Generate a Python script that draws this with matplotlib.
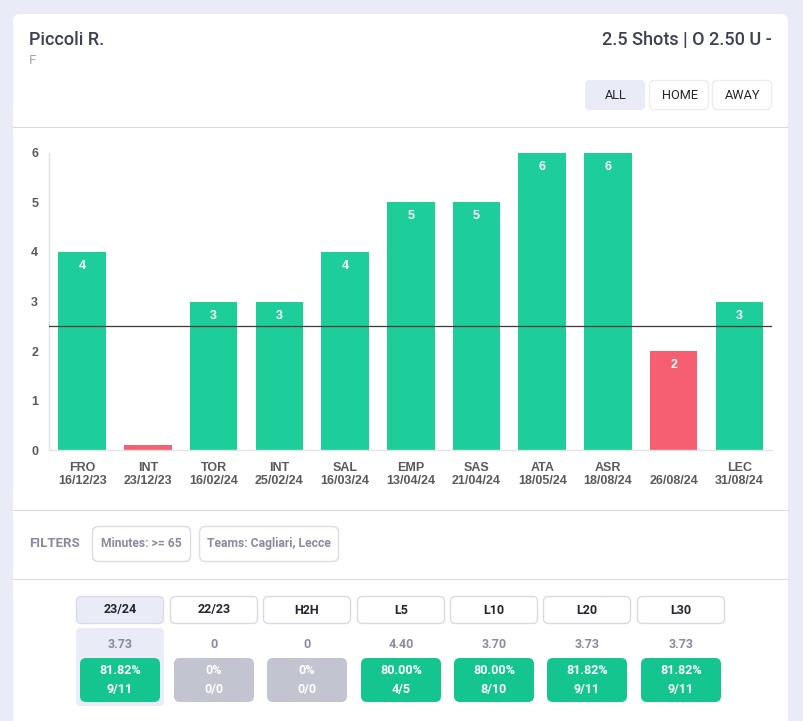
import matplotlib
matplotlib.use("Agg")
import matplotlib.pyplot as plt
from matplotlib.patches import FancyBboxPatch
from matplotlib.ticker import FixedLocator

teams = ["FRO", "INT", "TOR", "INT", "SAL", "EMP", "SAS", "ATA", "ASR", "", "LEC"]
dates = ["16/12/23", "23/12/23", "16/02/24", "25/02/24", "16/03/24", "13/04/24",
         "21/04/24", "18/05/24", "18/08/24", "26/08/24", "31/08/24"]
shots = [4, 0.1, 3, 3, 4, 5, 5, 6, 6, 2, 3]
bar_labels = ["4", "", "3", "3", "4", "5", "5", "6", "6", "2", "3"]
line_value = 2.5

tabs = ["23/24", "22/23", "H2H", "L5", "L10", "L20", "L30"]
averages = ["3.73", "0", "0", "4.40", "3.70", "3.73", "3.73"]
percents = ["81.82%", "0%", "0%", "80.00%", "80.00%", "81.82%", "81.82%"]
fractions = ["9/11", "0/0", "0/0", "4/5", "8/10", "9/11", "9/11"]
venue_buttons = ["ALL", "HOME", "AWAY"]
filters = ["Minutes: >= 65", "Teams: Cagliari, Lecce"]

W, H = 804, 721
BG = "#E9ECF6"
GREEN = "#1DCD9A"
RED = "#F65F72"
CELL = "#14C58F"
GREY = "#C2C4CF"
DARK = "#3E4152"
MUTED = "#8B8A9E"
LINE = "#DADBE0"
AXC = "#5A5A5A"

fig = plt.figure(figsize=(W / 100, H / 100), dpi=100, facecolor=BG)
ui = fig.add_axes([0, 0, 1, 1], zorder=0)
ui.set_xlim(0, W)
ui.set_ylim(H, 0)
ui.axis("off")


def box(x0, y0, x1, y1, fc, ec="none", r=5, lw=1.0, z=1):
    ui.add_patch(FancyBboxPatch((x0 + r, y0 + r), x1 - x0 - 2 * r, y1 - y0 - 2 * r,
                                boxstyle=f"round,pad={r},rounding_size={r}",
                                fc=fc, ec=ec, lw=lw, zorder=z))


def txt(x, y, s, size, color, weight="normal", ha="center", fam="Roboto"):
    ui.text(x, y, s, fontsize=size, color=color, fontweight=weight, ha=ha,
            va="center", family=fam, zorder=5)


# Card
box(13, 14, 788, 740, "white", r=7)
for y in (126.5, 509.5, 578.5):
    ui.plot([13, 788], [y, y], color=LINE, lw=0.8, zorder=2)

# Header
txt(29, 40, "Piccoli R.", 13, DARK, "medium", "left")
txt(29, 61, "F", 9.5, "#A5A5B2", "normal", "left")
txt(772, 40, "2.5 Shots | O 2.50 U -", 13, DARK, "medium", "right")

venue_x = [(585, 645), (649, 709), (712, 772)]
for i, (name, (a, b)) in enumerate(zip(venue_buttons, venue_x)):
    if i == 0:
        box(a, 80, b, 110, BG, r=5)
    else:
        box(a + .5, 80.5, b - .5, 109.5, "white", "#ECECF1", r=5)
    txt((a + b) / 2 + 1, 95.7, name, 9.2, "#25262E")

# Chart
ax = fig.add_axes([49.3 / W, 1 - 450.3 / H, 723 / W, 297.5 / H], zorder=3)
ax.patch.set_alpha(0)
xs = list(range(len(shots)))
colors = [GREEN if v > line_value else RED for v in shots]
bars = ax.bar(xs, shots, width=0.723, color=colors, zorder=2)
ax.set_xlim(-0.5, len(shots) - 0.5)
ax.set_ylim(0, 6)
ax.axhline(line_value, color="#3A3A3A", lw=0.9, zorder=3)
for x, v, lab in zip(xs, shots, bar_labels):
    if lab:
        ax.annotate(lab, (x, v), xytext=(0, -14), textcoords="offset pixels",
                    ha="center", va="center", color="white", fontsize=9,
                    fontweight="bold", family="Liberation Sans", zorder=4)
for s in ("top", "right"):
    ax.spines[s].set_visible(False)
for s in ("left", "bottom"):
    ax.spines[s].set_color("#E2E3E6")
    ax.spines[s].set_linewidth(1.0)
ax.yaxis.set_major_locator(FixedLocator(range(7)))
ax.tick_params(axis="y", length=0, pad=8, labelsize=9, labelcolor=AXC)
ax.set_xticks(xs)
ax.set_xticklabels([f"{t}\n{d}" for t, d in zip(teams, dates)], linespacing=1.12)
ax.tick_params(axis="x", length=0, pad=8.5, labelsize=9, labelcolor=AXC)
for lab in ax.get_xticklabels() + ax.get_yticklabels():
    lab.set_family("Liberation Sans")
    lab.set_fontweight("bold")

# Filters
txt(29, 543.5, "FILTERS", 9.5, MUTED, "bold", "left")
chip_x = [(92.5, 190.5), (199.5, 338.5)]
for name, (a, b) in zip(filters, chip_x):
    box(a, 526.5, b, 561.5, "white", "#DCDCE2", r=6)
    txt((a + b) / 2, 543.5, name, 8.7, MUTED, "bold")

# Stats table
tab_x = [(76, 164), (170, 258), (263, 351), (357, 445), (450, 538), (543, 631), (637, 725)]
cell_x = [(80, 160), (174, 254), (267, 347), (361, 441), (454, 534), (547, 627), (641, 721)]
box(76, 628, 164, 706, BG, r=5)
for i, name in enumerate(tabs):
    a, b = tab_x[i]
    box(a + .5, 596.5, b - .5, 623.5, BG if i == 0 else "white", "#DADBE2", r=5)
    txt((a + b) / 2, 610, name, 9, "#25262E", "bold")
    c, d = cell_x[i]
    mid = (c + d) / 2
    txt(mid, 645, averages[i], 9, MUTED, "bold")
    box(c, 658, d, 702, CELL if percents[i] != "0%" else GREY, r=6)
    txt(mid, 671, percents[i], 9, "white", "bold")
    txt(mid, 689, fractions[i], 9, "white", "bold")

fig.savefig("out.png", dpi=100, facecolor=BG)
